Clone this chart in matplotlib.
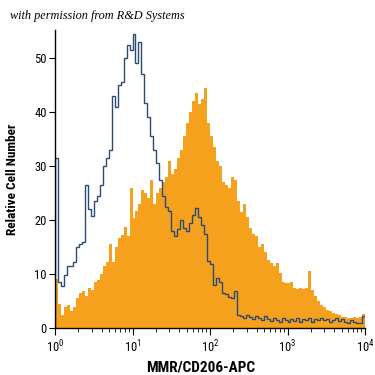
import numpy as np
import matplotlib.pyplot as plt
from matplotlib import font_manager

# ------------------------------------------------------------
# data (log-spaced channels, 10^0 .. 10^4)
# ------------------------------------------------------------
N_BINS = 104
edges = np.logspace(0, 4, N_BINS + 1)

# MMR/CD206-APC stained cells (orange filled histogram)
stained = [
    9.0, 4.5, 2.5, 3.8, 4.3, 3.2, 3.8, 5.5, 6.5, 6.8,
    6.0, 7.4, 7.0, 8.6, 8.8, 10.0, 11.5, 12.3, 15.5, 12.3,
    15.0, 16.7, 17.2, 18.8, 17.0, 26.0, 20.4, 21.7, 23.0, 25.5,
    25.0, 24.0, 27.5, 23.0, 25.0, 25.9, 27.0, 28.0, 30.9, 28.5,
    29.5, 31.5, 33.0, 35.5, 38.0, 40.0, 42.0, 43.5, 41.5, 42.5,
    44.5, 38.0, 35.5, 33.5, 31.0, 30.0, 27.0, 26.5, 26.0, 28.0,
    27.5, 23.5, 21.5, 23.0, 20.6, 18.5, 17.5, 17.0, 15.0, 15.5,
    14.0, 12.6, 12.0, 11.5, 12.0, 10.1, 8.6, 8.3, 8.3, 8.5,
    7.5, 7.3, 7.4, 7.2, 7.5, 10.5, 7.0, 6.0, 5.0, 4.2,
    3.8, 3.3, 3.2, 2.8, 2.6, 2.5, 2.1, 2.0, 1.8, 1.9,
    2.0, 1.8, 2.0, 2.6,
]

# isotype control (blue outline histogram)
control = [
    31.5, 8.5, 7.8, 9.9, 11.5, 11.5, 12.3, 15.0, 15.5, 16.0,
    26.5, 22.0, 20.8, 23.5, 24.4, 26.5, 30.0, 31.5, 33.0, 43.0,
    41.0, 45.0, 45.5, 50.0, 52.5, 51.5, 54.5, 49.0, 53.0, 47.0,
    41.6, 39.0, 35.5, 33.0, 30.5, 27.5, 24.5, 22.5, 21.6, 18.0,
    17.1, 18.3, 20.0, 18.5, 18.0, 19.5, 21.0, 22.2, 20.6, 19.0,
    17.5, 12.5, 11.8, 8.0, 9.3, 8.5, 6.5, 6.3, 5.8, 5.5,
    6.8, 2.4, 2.2, 1.8, 2.5, 2.0, 1.6, 2.3, 1.9, 1.4,
    2.2, 1.7, 1.3, 1.9, 1.5, 1.2, 1.8, 1.4, 1.1, 1.7,
    1.3, 1.9, 1.2, 1.6, 1.4, 1.9, 1.2, 1.7, 1.5, 1.9,
    1.4, 1.7, 1.2, 1.5, 1.9, 1.3, 1.6, 1.2, 1.0, 1.4,
    1.1, 0.9, 1.0, 2.3,
]

y_ticks = [0, 10, 20, 30, 40, 50]

ORANGE = "#f6a11e"
NAVY = "#2b4c70"

# pick a narrow sans if one is around, the reference uses a condensed face
wanted = ["Liberation Sans Narrow", "Roboto Condensed", "Open Sans Condensed",
          "DejaVu Sans Condensed", "Noto Sans Condensed"]
have = {f.name for f in font_manager.fontManager.ttflist}
narrow = [n for n in wanted if n in have]
FONT = narrow[:1] + ["DejaVu Sans"]
STRETCH = "normal" if narrow else "condensed"

plt.rcParams["font.family"] = FONT
plt.rcParams["font.stretch"] = STRETCH

# ------------------------------------------------------------
# figure
# ------------------------------------------------------------
fig = plt.figure(figsize=(3.75, 3.75), dpi=100)
ax = fig.add_axes([55 / 375, 47 / 375, 310 / 375, 298 / 375])

ax.stairs(stained, edges, fill=True, color=ORANGE, linewidth=0)
ax.stairs(control, edges, color=NAVY, linewidth=1.0, baseline=0)

ax.set_xscale("log")
ax.set_xlim(1, 1e4)
ax.set_ylim(0, 55.2)

for side in ["top", "right"]:
    ax.spines[side].set_visible(False)
for side in ["left", "bottom"]:
    ax.spines[side].set_linewidth(1.0)
    ax.spines[side].set_color("black")

ax.set_yticks(y_ticks)
ax.tick_params(axis="y", length=4, width=0.8, pad=2, labelsize=9)
ax.tick_params(axis="x", which="major", length=5, width=0.8, pad=3, labelsize=9)
ax.tick_params(axis="x", which="minor", length=3, width=0.6)

ax.set_xlabel("MMR/CD206-APC", fontsize=11, fontweight="bold")
ax.xaxis.set_label_coords(0.471, -0.108)
ax.set_ylabel("Relative Cell Number", fontsize=9.5, fontweight="bold", labelpad=11)

fig.text(0.027, 0.958, "with permission from R&D Systems", family="Liberation Serif",
         style="italic", fontsize=8.8, va="center", ha="left")

plt.savefig("out.png", dpi=100)
